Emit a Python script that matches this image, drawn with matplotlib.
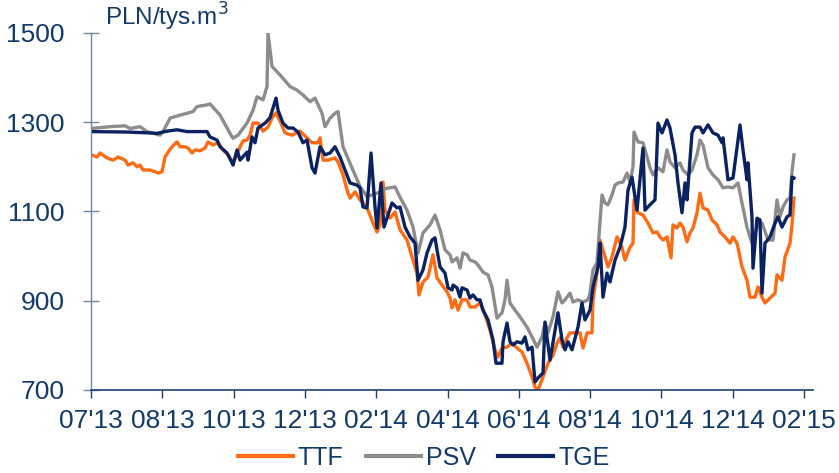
import matplotlib
matplotlib.use("Agg")
import matplotlib.pyplot as plt
import numpy as np

plt.rcParams['font.family'] = ['Liberation Sans', 'DejaVu Sans']

# x positions: trading-day index along the axis (tick spacing = 71.3 units)
tick_labels = ["07'13", "08'13", "10'13", "12'13", "02'14", "04'14",
               "06'14", "08'14", "10'14", "12'14", "02'15"]
tick_step = 71.3

psv_x = [91,110,125,130,140,147,160,163,170,180,187,193,197,207,210,220,230,233,238,247,
         253,257,263,267,268,272,280,290,297,303,310,315,322,325,330,335,338,343,350,360,
         367,377,387,395,400,407,413,418,423,430,435,440,445,450,452,457,460,463,467,470,
         475,478,483,488,492,497,502,505,507,510,515,520,527,532,537,542,545,548,553,558,
         562,565,570,573,578,583,588,590,593,597,602,605,608,612,615,618,623,627,630,633,
         634,638,643,650,653,658,663,667,670,675,680,683,688,692,697,700,703,708,713,718,
         723,728,733,738,742,747,752,757,762,768,773,777,780,783,787,790,792,794]
psv_v = [1286,1290,1292,1286,1290,1279,1271,1279,1309,1316,1320,1324,1335,1339,1341,1316,1275,1264,1271,1298,
         1327,1357,1350,1380,1500,1425,1406,1380,1372,1361,1346,1354,1320,1290,1309,1320,1324,1245,1208,1156,
         1133,1141,1152,1155,1132,1103,1065,1007,1052,1070,1092,1059,1014,1003,987,996,973,1007,1003,991,
         987,980,964,958,931,861,873,902,946,895,879,864,841,819,796,819,852,828,864,920,
         895,902,917,897,902,897,902,917,969,985,1137,1119,1115,1137,1159,1164,1166,1186,1166,1200,
         1278,1256,1254,1198,1182,1198,1189,1238,1211,1198,1209,1193,1182,1193,1227,1260,1249,1198,1182,1171,
         1153,1155,1153,1164,1119,1065,1029,1065,1074,1036,1036,1126,1088,1110,1126,1130,1189,1227]

tge_x = [91,127,150,157,167,177,187,207,210,217,220,227,232,233,237,240,247,248,252,255,
         258,265,270,273,276,278,283,288,293,298,303,307,312,315,320,325,330,335,340,345,
         350,357,360,363,367,371,375,377,381,384,392,397,400,405,410,415,418,423,427,432,
         435,437,440,445,448,452,453,457,460,462,467,470,473,477,480,483,488,493,496,502,
         503,507,510,513,517,522,525,528,532,535,538,543,545,550,555,558,562,565,568,572,
         578,582,585,590,593,598,600,603,607,610,615,620,625,628,632,637,643,645,650,655,
         658,662,667,670,675,678,682,685,687,692,695,700,703,708,713,718,722,723,728,733,
         740,743,747,748,752,753,757,760,762,765,770,775,778,782,787,790,792,794]
tge_v = [1279,1278,1276,1275,1280,1283,1279,1279,1267,1260,1245,1231,1209,1204,1238,1215,1233,1215,1267,1254,
         1287,1298,1310,1332,1354,1327,1298,1287,1287,1278,1254,1260,1198,1186,1245,1227,1231,1245,1222,1193,
         1164,1159,1153,1110,1108,1231,1110,1063,1164,1065,1119,1108,1110,1065,1043,1029,946,969,1007,1036,
         1041,1014,976,962,929,924,935,929,908,929,924,906,913,902,902,879,857,812,760,760,
         808,850,808,801,808,805,819,790,796,718,727,738,852,767,834,873,812,790,808,790,
         841,895,857,879,931,976,1029,908,962,942,991,1020,1065,1148,1177,1103,1242,1103,1115,1126,
         1298,1276,1305,1287,1227,1164,1097,1164,1126,1276,1289,1289,1276,1294,1276,1271,1254,1265,1171,1175,
         1294,1238,1171,1209,1088,973,1085,1081,917,1029,1043,1074,1088,1065,1088,1092,1177,1175]

ttf_x = [91,97,100,107,113,118,125,128,133,137,140,143,150,155,158,162,165,168,172,177,
         180,185,188,192,195,200,205,208,213,218,223,228,233,237,240,243,247,250,253,258,
         263,268,272,276,280,285,292,300,307,312,318,320,323,328,335,338,343,347,350,355,
         360,363,368,373,377,380,383,385,390,395,400,407,412,417,419,423,428,433,437,442,
         447,450,452,455,458,462,467,470,475,480,485,490,495,498,502,507,512,517,522,527,
         532,535,538,543,548,553,557,560,563,567,570,580,583,587,592,593,597,600,605,608,
         612,617,622,625,630,633,634,638,643,648,653,657,660,663,667,671,673,677,680,683,
         687,690,693,697,700,703,708,712,717,720,725,730,733,737,742,747,750,755,758,762,
         765,770,775,777,782,785,790,792,794]
ttf_v = [1227,1222,1231,1220,1215,1222,1215,1204,1209,1200,1204,1193,1193,1189,1186,1189,1222,1233,1245,1256,
         1245,1245,1242,1231,1238,1236,1242,1256,1249,1254,1238,1227,1209,1227,1245,1258,1260,1271,1298,1298,
         1280,1289,1310,1321,1303,1276,1271,1280,1265,1254,1254,1265,1215,1215,1220,1211,1182,1148,1130,1144,
         1126,1119,1103,1074,1054,1070,1166,1103,1085,1099,1059,1036,998,962,913,942,953,1003,951,935,
         920,906,884,902,879,902,902,886,886,895,868,834,790,774,794,796,805,794,785,760,
         729,707,700,729,760,778,805,817,796,817,828,828,794,828,828,902,962,1036,998,976,
         998,1043,1020,991,1020,1029,1126,1097,1092,1074,1052,1054,1043,1036,1043,996,1070,1063,1074,1065,
         1032,1052,1063,1097,1141,1108,1103,1081,1070,1054,1043,1029,1043,1029,976,946,908,908,931,908,
         895,906,917,958,946,998,1029,1070,1130]

origin = 91  # start of axis in the index units above

TEXT = '#123a6b'
C_TTF = '#ff6a13'
C_PSV = '#8c8c8c'
C_TGE = '#0a2261'

fig = plt.figure(figsize=(8.39, 4.73), dpi=100)
ax = fig.add_axes([0.1085, 0.1755, 0.8605, 0.7548])

def rel(xs):
    return np.asarray(xs, dtype=float) - origin

ax.plot(rel(ttf_x), ttf_v, color=C_TTF, lw=2.4, label='TTF', solid_joinstyle='round')
ax.plot(rel(psv_x), psv_v, color=C_PSV, lw=2.4, label='PSV', solid_joinstyle='round')
ax.plot(rel(tge_x), tge_v, color=C_TGE, lw=2.4, label='TGE', solid_joinstyle='round')

ax.set_ylim(700, 1500)
ax.set_xlim(0, 722)
ticks = np.arange(len(tick_labels)) * tick_step
ax.set_xticks(ticks)
ax.set_xticklabels(tick_labels)
ax.set_yticks([700, 900, 1100, 1300, 1500])

for s in ['top', 'right']:
    ax.spines[s].set_visible(False)
ax.spines['left'].set_color('#6f86a6')
ax.spines['left'].set_linewidth(1.0)
ax.spines['bottom'].set_color('#1f3f70')
ax.spines['bottom'].set_linewidth(1.2)

ax.tick_params(axis='y', direction='inout', length=11.5, width=1.0, color='#6f86a6',
               labelsize=19, labelcolor=TEXT, pad=13.5)
ax.tick_params(axis='x', direction='out', length=5.5, width=1.0, color='#1f3f70',
               labelsize=19, labelcolor=TEXT, pad=8)

ax.text(0.02, 1.0, 'PLN/tys.m$^3$', transform=ax.transAxes, fontsize=17.5,
        color=TEXT, ha='left', va='bottom')

leg = fig.legend(loc='center', bbox_to_anchor=(0.505, 0.032), ncol=3, frameon=False,
                 fontsize=18, handlelength=2.2, handletextpad=0.2, columnspacing=0.9,
                 borderpad=0.1)
for t in leg.get_texts():
    t.set_color(TEXT)
for l in leg.get_lines():
    l.set_linewidth(3)

fig.savefig('out.png', dpi=100)
